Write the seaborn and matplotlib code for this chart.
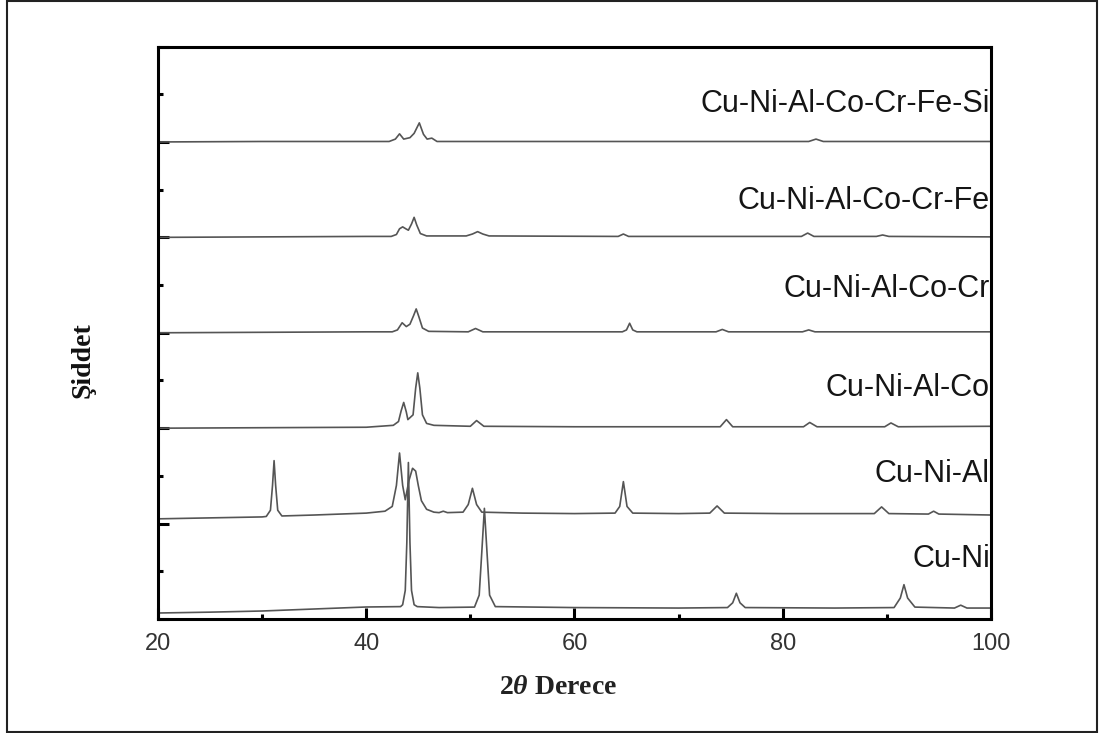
import numpy as np
import pandas as pd
import matplotlib
matplotlib.use("Agg")
import matplotlib.pyplot as plt
from matplotlib.patches import Rectangle
from matplotlib.ticker import MultipleLocator
import seaborn as sns

# XRD patterns (2-theta in degrees, intensity in arbitrary units above each baseline)
samples = ["Cu-Ni", "Cu-Ni-Al", "Cu-Ni-Al-Co", "Cu-Ni-Al-Co-Cr",
           "Cu-Ni-Al-Co-Cr-Fe", "Cu-Ni-Al-Co-Cr-Fe-Si"]
offsets = [0, 1, 2, 3, 4, 5]

cuni_2theta = [20, 25, 30, 35, 40, 43.3, 43.5, 43.75, 43.9, 44.05, 44.2, 44.35,
               44.6, 44.9, 47, 50.4, 50.85, 51.1, 51.35, 51.6, 51.85, 52.4, 60,
               70, 74.7, 75.2, 75.55, 75.9, 76.4, 85, 90.7, 91.3, 91.65, 92.0,
               92.7, 96.5, 97.1, 97.7, 100]
cuni_int = [0.063, 0.072, 0.084, 0.105, 0.126, 0.13, 0.15, 0.3, 0.8, 1.64, 0.8,
            0.3, 0.15, 0.13, 0.12, 0.125, 0.25, 0.7, 1.16, 0.7, 0.25, 0.13, 0.12,
            0.115, 0.12, 0.17, 0.27, 0.17, 0.12, 0.115, 0.12, 0.22, 0.36, 0.22,
            0.125, 0.115, 0.145, 0.115, 0.115]

cunial_2theta = [20, 25, 30, 30.4, 30.8, 31.0, 31.15, 31.3, 31.5, 31.9, 35, 40,
                 41.8, 42.5, 42.9, 43.2, 43.5, 43.75, 44.1, 44.45, 44.75, 45.0,
                 45.3, 45.8, 46.5, 47.0, 47.4, 47.8, 49.3, 49.8, 50.2, 50.6,
                 51.1, 55, 60, 63.9, 64.35, 64.7, 65.05, 65.6, 70, 73.0, 73.7,
                 74.4, 80, 88.8, 89.5, 90.2, 94.0, 94.5, 95.0, 100]
cunial_int = [0.05, 0.06, 0.07, 0.075, 0.14, 0.4, 0.66, 0.4, 0.14, 0.08, 0.09,
              0.11, 0.13, 0.18, 0.4, 0.74, 0.4, 0.25, 0.45, 0.58, 0.55, 0.4,
              0.24, 0.15, 0.12, 0.115, 0.13, 0.115, 0.12, 0.2, 0.37, 0.2, 0.12,
              0.11, 0.105, 0.11, 0.18, 0.44, 0.18, 0.11, 0.105, 0.11, 0.185,
              0.11, 0.105, 0.105, 0.175, 0.105, 0.1, 0.13, 0.1, 0.09]

cunialco_2theta = [20, 30, 40, 42.6, 43.1, 43.35, 43.6, 43.85, 44.0, 44.5,
                   44.75, 44.95, 45.15, 45.4, 45.8, 46.5, 50.0, 50.6, 51.3, 60,
                   74.0, 74.6, 75.2, 82.0, 82.6, 83.3, 89.8, 90.4, 91.1, 100]
cunialco_int = [0.0, 0.005, 0.01, 0.03, 0.07, 0.18, 0.27, 0.17, 0.09, 0.14,
                0.42, 0.58, 0.42, 0.14, 0.05, 0.03, 0.02, 0.08, 0.02, 0.015,
                0.015, 0.09, 0.015, 0.015, 0.06, 0.015, 0.015, 0.055, 0.015,
                0.02]

cunialcocr_2theta = [20, 30, 40, 42.5, 43.0, 43.45, 43.85, 44.2, 44.55, 44.8,
                     45.05, 45.4, 46.0, 49.8, 50.5, 51.2, 60, 64.6, 65.0, 65.3,
                     65.6, 66.0, 73.6, 74.2, 74.8, 81.9, 82.5, 83.1, 100]
cunialcocr_int = [0.0, 0.005, 0.01, 0.01, 0.03, 0.105, 0.065, 0.09, 0.18, 0.25,
                  0.17, 0.05, 0.015, 0.01, 0.045, 0.01, 0.01, 0.01, 0.03, 0.1,
                  0.03, 0.01, 0.01, 0.035, 0.01, 0.01, 0.03, 0.01, 0.01]

cunialcocrfe_2theta = [20, 30, 40, 42.4, 42.9, 43.2, 43.5, 43.8, 44.05, 44.35,
                       44.6, 44.85, 45.2, 45.8, 49.6, 50.2, 50.7, 51.2, 51.8,
                       64.2, 64.7, 65.2, 81.8, 82.4, 83.0, 89.0, 89.6, 90.2, 100]
cunialcocrfe_int = [0.0, 0.005, 0.01, 0.01, 0.03, 0.09, 0.11, 0.09, 0.075, 0.14,
                    0.21, 0.13, 0.04, 0.015, 0.015, 0.035, 0.06, 0.035, 0.015,
                    0.01, 0.035, 0.01, 0.01, 0.045, 0.01, 0.01, 0.025, 0.01,
                    0.005]

cunialcocrfesi_2theta = [20, 30, 40, 42.2, 42.8, 43.2, 43.6, 44.2, 44.6, 45.1,
                         45.5, 45.85, 46.3, 46.8, 60, 82.5, 83.2, 83.9, 100]
cunialcocrfesi_int = [0.0, 0.005, 0.005, 0.005, 0.03, 0.085, 0.03, 0.045, 0.09,
                      0.2, 0.08, 0.03, 0.04, 0.005, 0.005, 0.005, 0.03, 0.005,
                      0.005]

label_heights = [0.55, 1.44, 2.34, 3.37, 4.30, 5.31]

x_ticks = [20, 40, 60, 80, 100]

patterns = [
    (cuni_2theta, cuni_int),
    (cunial_2theta, cunial_int),
    (cunialco_2theta, cunialco_int),
    (cunialcocr_2theta, cunialcocr_int),
    (cunialcocrfe_2theta, cunialcocrfe_int),
    (cunialcocrfesi_2theta, cunialcocrfesi_int),
]

frames = []
for name, off, (tt, inten) in zip(samples, offsets, patterns):
    frames.append(pd.DataFrame({
        "two_theta": tt,
        "signal": np.asarray(inten) + off,
        "sample": name,
    }))
df = pd.concat(frames, ignore_index=True)

sns.set_style("ticks")
plt.rcParams["font.family"] = ["Liberation Sans", "DejaVu Sans"]
plt.rcParams["mathtext.fontset"] = "custom"
plt.rcParams["mathtext.rm"] = "Liberation Serif:bold"
plt.rcParams["mathtext.it"] = "Liberation Serif:italic:bold"
plt.rcParams["mathtext.bf"] = "Liberation Serif:bold"

fig = plt.figure(figsize=(11.01, 7.33), dpi=100)
ax = fig.add_axes([0.1435, 0.1555, 0.7565, 0.781])

sns.lineplot(data=df, x="two_theta", y="signal", hue="sample",
             palette=["#555555"] * len(samples), estimator=None, sort=False,
             linewidth=1.2, legend=False, ax=ax)

ax.set_xlim(20, 100)
ax.set_ylim(0, 6)
ax.set_xticks(x_ticks)
ax.xaxis.set_minor_locator(MultipleLocator(10))
ax.yaxis.set_major_locator(MultipleLocator(1))
ax.yaxis.set_minor_locator(MultipleLocator(0.5))
ax.set_yticklabels([])
ax.tick_params(axis="both", which="major", direction="in", length=8,
               width=2.2, color="black")
ax.tick_params(axis="both", which="minor", direction="in", length=3.6,
               width=2.2, color="black")
ax.tick_params(axis="x", which="major", labelsize=17, labelcolor="#333333",
               pad=10)
for side in ["left", "right", "top", "bottom"]:
    ax.spines[side].set_linewidth(2.2)
    ax.spines[side].set_color("black")

for name, yl in zip(samples, label_heights):
    ax.text(99.9, yl, name, ha="right", va="baseline", fontsize=22,
            color="#151515", clip_on=False)

ax.set_xlabel(r"2$\mathit{\theta}$ Derece", family="Liberation Serif",
              weight="bold", fontsize=20, color="#222222")
ax.set_ylabel("Şiddet", family="Liberation Serif", weight="bold",
              fontsize=20, color="#111111")
ax.xaxis.set_label_coords(0.48, -0.119)
ax.xaxis.label.set_va("center")
ax.yaxis.set_label_coords(-0.09, 0.452)
ax.yaxis.label.set_va("center")
ax.yaxis.label.set_ha("center")

# frame around the whole figure
fig.patches.append(Rectangle((0.0064, 0.0014), 0.99, 0.997,
                             transform=fig.transFigure, fill=False,
                             edgecolor="#222222", linewidth=1.5))

fig.savefig("out.png", dpi=100)
